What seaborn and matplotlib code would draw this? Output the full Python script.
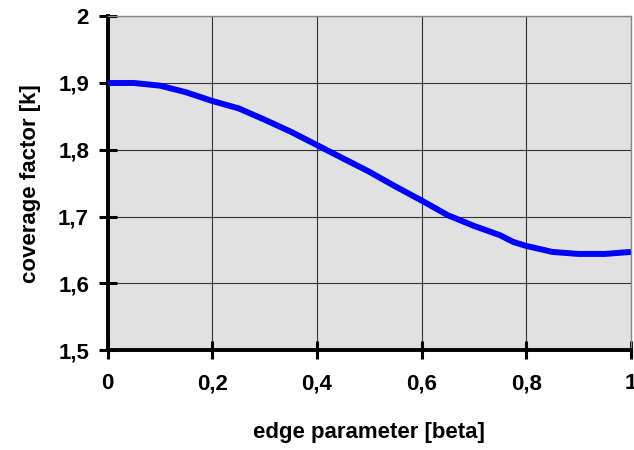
import matplotlib
matplotlib.use("Agg")
import matplotlib.pyplot as plt
import pandas as pd
import seaborn as sns

# values
beta = [0, 0.05, 0.10, 0.15, 0.20, 0.25, 0.30, 0.35, 0.40, 0.45, 0.50,
        0.55, 0.60, 0.65, 0.70, 0.75, 0.775, 0.80, 0.85, 0.90, 0.95, 1.00]
k = [1.900, 1.900, 1.896, 1.886, 1.873, 1.862, 1.845, 1.827, 1.807, 1.787, 1.767,
     1.745, 1.724, 1.702, 1.686, 1.672, 1.662, 1.656, 1.647, 1.644, 1.644, 1.647]
x_ticks = [0, 0.2, 0.4, 0.6, 0.8, 1.0]
x_labels = ["0", "0,2", "0,4", "0,6", "0,8", "1"]
y_ticks = [1.5, 1.6, 1.7, 1.8, 1.9, 2.0]
y_labels = ["1,5", "1,6", "1,7", "1,8", "1,9", "2"]

df = pd.DataFrame({"beta": beta, "k": k})

sns.set_style("white")
plt.rcParams["font.family"] = ["Liberation Sans", "DejaVu Sans"]
plt.rcParams["font.weight"] = "bold"
plt.rcParams["text.color"] = "black"
plt.rcParams["axes.labelcolor"] = "black"
plt.rcParams["xtick.color"] = "black"
plt.rcParams["ytick.color"] = "black"

fig, ax = plt.subplots(figsize=(6.34, 4.5), dpi=100)
fig.subplots_adjust(left=0.170, right=0.995, top=0.964, bottom=0.222)

ax.set_facecolor("#e1e1e1")
sns.lineplot(data=df, x="beta", y="k", ax=ax, color="#0000ff", linewidth=4.3,
             solid_capstyle="butt", zorder=3)

ax.set_xlim(0, 1)
ax.set_ylim(1.5, 2.0)
ax.set_xticks(x_ticks)
ax.set_xticklabels(x_labels, fontsize=16, fontweight="bold")
ax.set_yticks(y_ticks)
ax.set_yticklabels(y_labels, fontsize=16, fontweight="bold")
ax.grid(True, color="#333333", linewidth=0.8, zorder=1)
ax.set_axisbelow(True)

ax.tick_params(axis="both", direction="inout", length=13, width=2.2, colors="black",
               bottom=True, left=True)
ax.tick_params(axis="x", pad=10)
ax.tick_params(axis="y", pad=7)

for side in ["left", "bottom"]:
    ax.spines[side].set_color("black")
    ax.spines[side].set_linewidth(2.8)
for side in ["top", "right"]:
    ax.spines[side].set_color("#888888")
    ax.spines[side].set_linewidth(1.0)

ax.set_xlabel("edge parameter [beta]", fontsize=16, fontweight="bold", labelpad=20)
ax.set_ylabel("coverage factor [k]", fontsize=16, fontweight="bold", labelpad=12)

fig.savefig("out.png")
